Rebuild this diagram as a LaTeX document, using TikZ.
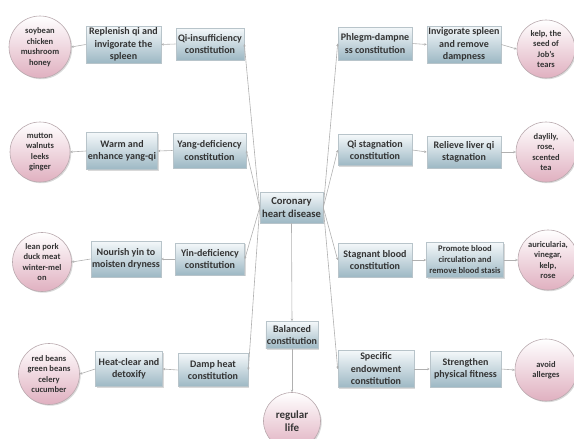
\documentclass[tikz,border=0pt]{standalone}
\usepackage{fontspec}
\setmainfont{Carlito}
\usetikzlibrary{shadows,arrows.meta}
\definecolor{txt}{HTML}{333333}
\definecolor{boxtop}{HTML}{F4F8FA}
\definecolor{boxbot}{HTML}{9DB8C4}
\definecolor{boxline}{HTML}{B8C4CA}
\definecolor{circtop}{HTML}{FFFFFF}
\definecolor{circbot}{HTML}{E0B0C0}
\definecolor{circline}{HTML}{B9A9AE}
\definecolor{conn}{HTML}{B0B0B0}
\tikzset{
  box/.style={draw=boxline, line width=0.6pt, top color=boxtop, bottom color=boxbot,
    drop shadow={shadow xshift=1.2pt, shadow yshift=-1.2pt, opacity=0.3},
    align=center, font=\fontsize{10}{12.5}\selectfont\bfseries, text=txt,
    inner sep=1pt},
  food/.style={circle, draw=circline, line width=0.6pt, top color=circtop, bottom color=circbot,
    drop shadow={shadow xshift=1.2pt, shadow yshift=-1.2pt, opacity=0.3},
    align=center, font=\fontsize{8.5}{10.5}\selectfont\bfseries, text=txt, inner sep=0pt},
  link/.style={draw=conn, line width=0.6pt, -{Stealth[length=2.5pt,width=2.5pt]}},
}
\begin{document}
\begin{tikzpicture}[x=1pt,y=-1pt]
\useasboundingbox (0,0) rectangle (574,439);
\clip (0,0) rectangle (574,439);
% center
\node[box, minimum width=63pt, minimum height=31pt, font=\fontsize{10.6}{13}\selectfont\bfseries] (chd) at (291.5,207.5) {Coronary\\heart disease};
% left column
\node[box, minimum width=68pt, minimum height=32pt] (qi) at (210,44) {Qi-insufficiency\\constitution};
\node[box, minimum width=75pt, minimum height=37pt] (rep) at (123.5,44.5) {Replenish qi and\\invigorate the\\spleen};
\node[food, minimum size=62pt] (soy) at (40,47) {soybean\\chicken\\mushroom\\honey};
\node[box, minimum width=73pt, minimum height=35pt] (yang) at (209.5,150.5) {Yang-deficiency\\constitution};
\node[box, minimum width=71pt, minimum height=37pt] (warm) at (122,151) {Warm and\\enhance yang-qi};
\node[food, minimum size=60pt] (mut) at (40,152) {mutton\\walnuts\\leeks\\ginger};
\node[box, minimum width=69pt, minimum height=32pt] (yin) at (210,259) {Yin-deficiency\\constitution};
\node[box, minimum width=70pt, minimum height=36pt] (nour) at (126,259) {Nourish yin to\\moisten dryness};
\node[food, minimum size=59pt] (lean) at (42,262) {lean pork\\duck meat\\winter-mel\\on};
\node[box, minimum width=70pt, minimum height=33pt] (damp) at (213,370) {Damp heat\\constitution};
\node[box, minimum width=67pt, minimum height=35pt] (heat) at (129,369) {Heat-clear and\\detoxify};
\node[food, minimum size=61pt] (red) at (49,374) {red beans\\green beans\\celery\\cucumber};
% middle
\node[box, minimum width=51pt, minimum height=27pt] (bal) at (292,335) {Balanced\\constitution};
\node[food, minimum size=57pt, font=\fontsize{11}{13.5}\selectfont\bfseries] (reg) at (292,421) {regular\\life};
% right column
\node[box, minimum width=74pt, minimum height=33pt] (phl) at (375,43.5) {Phlegm-dampne\\ss constitution};
\node[box, minimum width=74pt, minimum height=37pt] (inv) at (464,44.5) {Invigorate spleen\\and remove\\dampness};
\node[food, minimum size=58pt] (kelp) at (546,49) {kelp, the\\seed of\\Job's\\tears};
\node[box, minimum width=74pt, minimum height=31pt] (qis) at (375,150) {Qi stagnation\\constitution};
\node[box, minimum width=74pt, minimum height=32pt] (rel) at (464,152) {Relieve liver qi\\stagnation};
\node[food, minimum size=60pt] (day) at (546,152) {daylily,\\rose,\\scented\\tea};
\node[box, minimum width=74pt, minimum height=34pt] (stb) at (375,260) {Stagnant blood\\constitution};
\node[box, minimum width=77pt, minimum height=35pt, font=\fontsize{8.6}{11}\selectfont\bfseries] (pro) at (465,260) {Promote blood\\circulation and\\remove blood stasis};
\node[food, minimum size=60pt] (aur) at (548,260) {auricularia,\\vinegar,\\kelp,\\rose};
\node[box, minimum width=76pt, minimum height=37pt] (spe) at (376,369) {Specific\\endowment\\constitution};
\node[box, minimum width=71pt, minimum height=36pt] (stre) at (465.5,369) {Strengthen\\physical fitness};
\node[food, minimum size=62pt] (avo) at (546,370) {avoid\\allerges};
% connectors from center
\foreach \t in {qi,yang,yin,damp} \draw[link] (chd.west) -- (\t.east);
\foreach \t in {phl,qis,stb,spe} \draw[link] (chd.east) -- (\t.west);
\draw[link] (chd.south) -- (bal.north);
\draw[link] (bal.south) -- (reg.north);
% left chains
\draw[link] (qi.west) -- (rep.east);
\draw[link] (rep.west) -- (soy.east);
\draw[link] (yang.west) -- (warm.east);
\draw[link] (warm.west) -- (mut.east);
\draw[link] (yin.west) -- (nour.east);
\draw[link] (nour.west) -- (lean.east);
\draw[link] (damp.west) -- (heat.east);
\draw[link] (heat.west) -- (red.east);
% right chains
\draw[link] (phl.east) -- (inv.west);
\draw[link] (inv.east) -- (kelp.west);
\draw[link] (qis.east) -- (rel.west);
\draw[link] (rel.east) -- (day.west);
\draw[link] (stb.east) -- (pro.west);
\draw[link] (pro.east) -- (aur.west);
\draw[link] (spe.east) -- (stre.west);
\draw[link] (stre.east) -- (avo.west);
\end{tikzpicture}
\end{document}
